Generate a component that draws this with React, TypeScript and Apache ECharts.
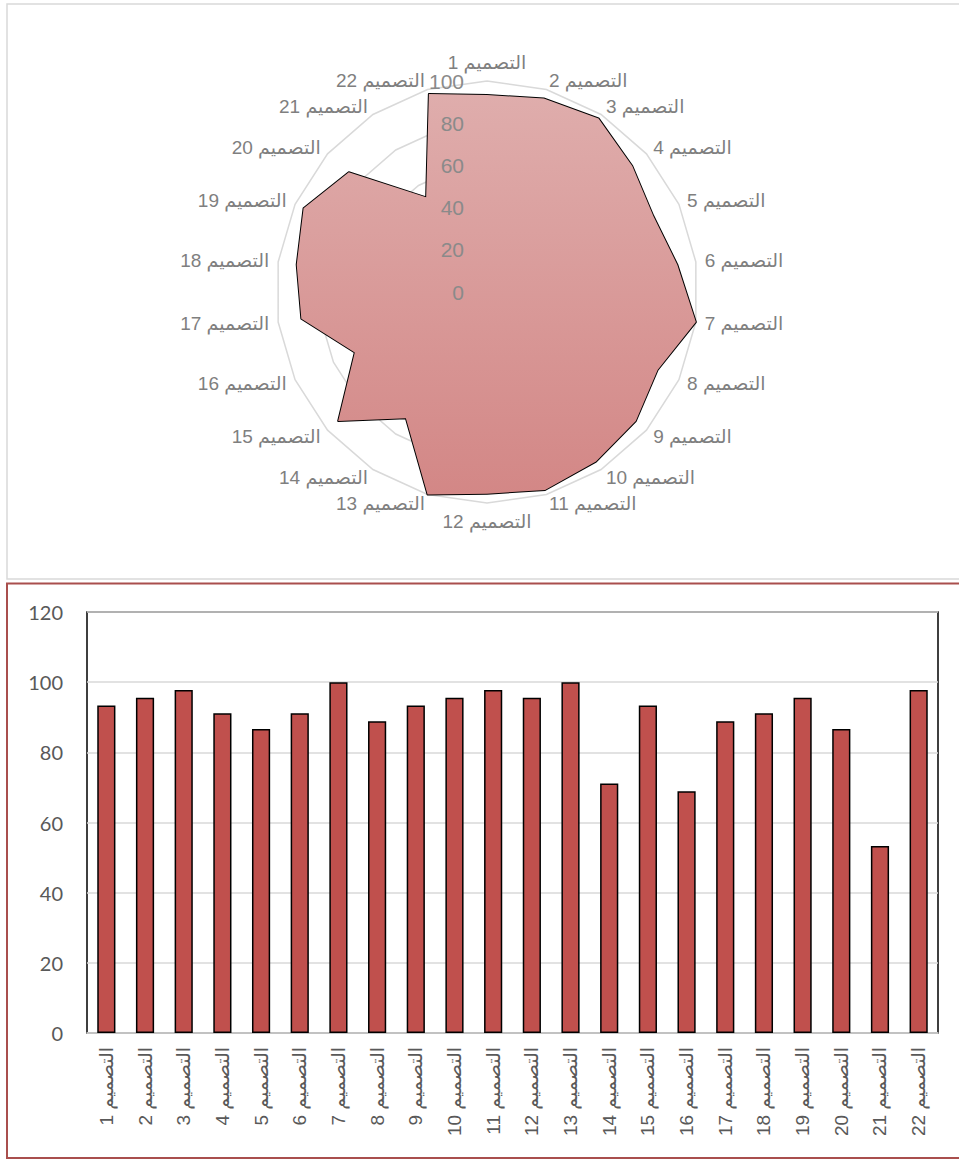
import React, { useEffect, useRef } from "react";
import * as echarts from "echarts";

const categories = [
  "التصميم 1", "التصميم 2", "التصميم 3", "التصميم 4", "التصميم 5", "التصميم 6",
  "التصميم 7", "التصميم 8", "التصميم 9", "التصميم 10", "التصميم 11", "التصميم 12",
  "التصميم 13", "التصميم 14", "التصميم 15", "التصميم 16", "التصميم 17", "التصميم 18",
  "التصميم 19", "التصميم 20", "التصميم 21", "التصميم 22",
];
const values = [
  93.33, 95.56, 97.78, 91.11, 86.67, 91.11, 100, 88.89, 93.33, 95.56, 97.78,
  95.56, 100, 71.11, 93.33, 68.89, 88.89, 91.11, 95.56, 86.67, 53.33, 97.78,
];
const radarMax = 100;
const barYMax = 120;
const barYInterval = 20;

const ARABIC_FONT = "'Liberation Sans', 'DejaVu Sans', sans-serif";

export default function App() {
  const ref = useRef<HTMLDivElement>(null);
  useEffect(() => {
    if (!ref.current) return;
    const chart = echarts.init(ref.current, null, { renderer: "svg" });
    // clockwise order: first category at top, then going right
    const order = [0, ...categories.map((_, i) => i).slice(1).reverse()];
    const indicators = order.map((i) => ({
      name: categories[i],
      min: 0,
      max: radarMax,
    }));
    const indicatorsLabels = order.map((i) => ({
      name: "",
      min: 0,
      max: radarMax,
      axisLabel: { show: i === 0 },
    }));
    const radarValues = order.map((i) => values[i]);

    const option: any = {
      animation: false,
      textStyle: { fontFamily: ARABIC_FONT },
      graphic: [
        {
          type: "rect",
          shape: { x: 7, y: 4, width: 960, height: 575 },
          style: { fill: "none", stroke: "#d9d9d9", lineWidth: 1.5 },
          z: 10,
        },
        {
          type: "rect",
          shape: { x: 7, y: 583.5, width: 960, height: 574.5 },
          style: { fill: "none", stroke: "#a94f4d", lineWidth: 2 },
          z: 10,
        },
      ],
      radar: [
        {
          center: [487, 292],
          radius: 211,
          startAngle: 90,
          splitNumber: 5,
          shape: "polygon",
          indicator: indicators,
          nameGap: 9,
          axisName: { color: "#7f7f7f", fontSize: 19, fontFamily: ARABIC_FONT },
          axisLine: { show: false },
          axisTick: { show: false },
          axisLabel: { show: false },
          splitLine: { lineStyle: { color: "#d9d9d9", width: 1.5 } },
          splitArea: { show: false },
          z: 0,
        },
        {
          center: [487, 292],
          radius: 211,
          startAngle: 90,
          splitNumber: 5,
          shape: "polygon",
          indicator: indicatorsLabels,
          axisName: { show: false },
          axisLine: { show: false },
          axisTick: { show: false },
          axisLabel: {
            show: false,
            color: "#8a8a8a",
            fontSize: 21,
            fontFamily: ARABIC_FONT,
            margin: 23,
          },
          splitLine: { show: false },
          splitArea: { show: false },
          z: 5,
        },
      ],
      grid: {
        left: 87,
        top: 612,
        right: 21,
        bottom: 127,
        show: true,
        borderColor: "#000",
        borderWidth: 1.5,
        backgroundColor: "transparent",
      },
      xAxis: {
        type: "category",
        data: categories,
        axisLine: { show: true, lineStyle: { color: "#c8c8c8", width: 1.5 } },
        axisTick: { show: false },
        axisLabel: {
          rotate: 90,
          interval: 0,
          fontSize: 19,
          color: "#595959",
          fontFamily: ARABIC_FONT,
          margin: 14,
        },
      },
      yAxis: {
        type: "value",
        min: 0,
        max: barYMax,
        interval: barYInterval,
        axisLine: { show: false },
        axisTick: { show: false },
        axisLabel: {
          fontSize: 20,
          color: "#595959",
          margin: 24,
          fontFamily: "Lato, 'Liberation Sans', sans-serif",
        },
        splitLine: { lineStyle: { color: "#d9d9d9", width: 1.5 } },
      },
      series: [
        {
          type: "radar",
          radarIndex: 0,
          symbol: "none",
          data: [{ value: radarValues }],
          lineStyle: { color: "#000", width: 2 },
          areaStyle: {
            opacity: 1,
            color: {
              type: "linear",
              x: 0, y: 0, x2: 0, y2: 1,
              colorStops: [
                { offset: 0, color: "#dfadac" },
                { offset: 1, color: "#d38786" },
              ],
            },
          },
          z: 2,
        },
        {
          type: "bar",
          data: values,
          barWidth: "47%",
          itemStyle: { color: "#c0504d", borderColor: "#000", borderWidth: 1.5 },
        },
      ],
    };
    chart.setOption(option);
    return () => chart.dispose();
  }, []);
  return (
    <div
      ref={ref}
      style={{ position: "absolute", left: 0, top: 0, width: 959, height: 1160, background: "#fff" }}
    />
  );
}
